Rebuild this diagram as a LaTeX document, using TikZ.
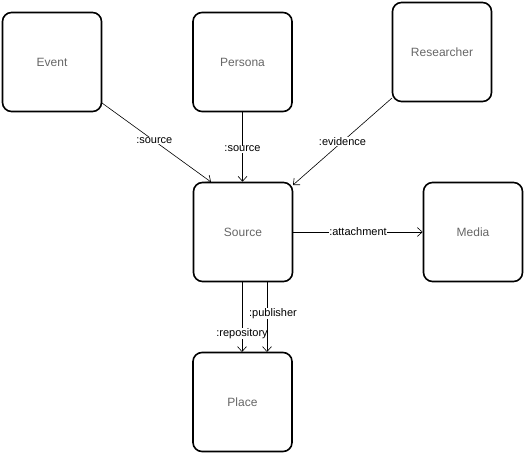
\documentclass[tikz,border=0pt]{standalone}
\usepackage{fontspec}
\setmainfont{Liberation Sans}
\usetikzlibrary{arrows.meta}
\definecolor{txtgray}{RGB}{102,102,102}
\begin{document}
\begin{tikzpicture}[x=1pt,y=-1pt,
  box/.style={draw=black,line width=1.6pt,rounded corners=9pt,minimum width=99pt,minimum height=99pt,inner sep=0pt,text=txtgray,font=\fontsize{12}{14}\selectfont},
  link/.style={draw=black,line width=0.6pt,-{Straight Barb[length=5pt,width=9pt,line width=0.6pt]}},
  lab/.style={fill=white,inner sep=0.5pt,font=\fontsize{11}{13}\selectfont,text=black}]
\useasboundingbox (0,0) rectangle (524,457);
\node[box] (event) at (52,62) {Event};
\node[box] (persona) at (242.5,62) {Persona};
\node[box] (researcher) at (442,52) {Researcher};
\node[box] (source) at (243,232) {Source};
\node[box] (media) at (473,232) {Media};
\node[box] (place) at (242.5,402) {Place};
\coordinate (e1) at (102,103);
\coordinate (e2) at (211,182);
\draw[link] (e1) -- node[lab,pos=0.48] {:source} (e2);
\draw[link] (persona.south) -- node[lab,pos=0.53] {:source} (persona.south |- source.north);
\coordinate (r1) at (392,98);
\coordinate (r2) at (293,185);
\draw[link] (r1) -- node[lab,pos=0.5] {:evidence} (r2);
\draw[link] (source.east) -- node[lab,pos=0.5] {:attachment} (media.west);
\coordinate (p1) at (242,282);
\coordinate (p2) at (242,352);
\draw[link] (p1) -- node[lab,pos=0.74] {:repository} (p2);
\coordinate (q1) at (267,282);
\coordinate (q2) at (267,352);
\draw[link] (q1) -- node[lab,pos=0.45,xshift=6pt] {:publisher} (q2);
\end{tikzpicture}
\end{document}
